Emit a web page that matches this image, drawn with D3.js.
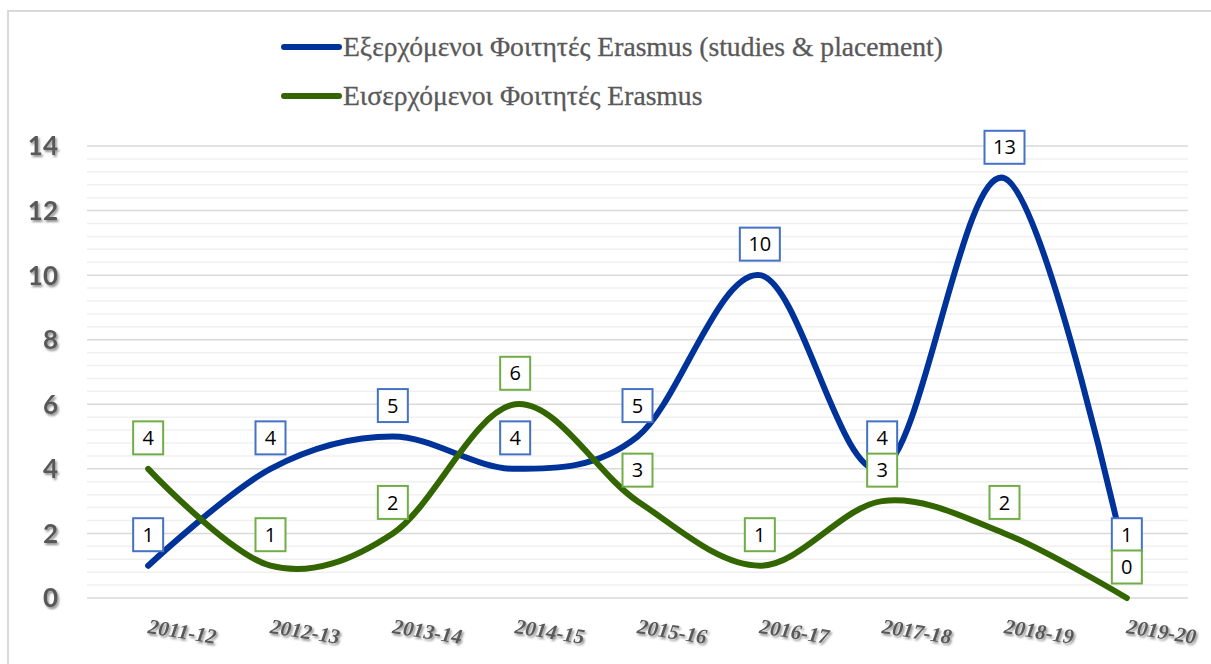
<!DOCTYPE html>
<html><head><meta charset="utf-8">
<script src="https://cdn.jsdelivr.net/npm/d3@7"></script>
<style>body{margin:0;background:#fff;}svg{display:block;}</style>
</head><body>
<svg id="chart" width="1211" height="664"></svg>
<script>
const categories = ["2011-12","2012-13","2013-14","2014-15","2015-16","2016-17","2017-18","2018-19","2019-20"];
const outgoing = [1,4,5,4,5,10,4,13,1];
const incoming = [4,1,2,6,3,1,3,2,0];
const seriesNames = ["Εξερχόμενοι Φοιτητές Erasmus (studies & placement)","Εισερχόμενοι Φοιτητές Erasmus"];
const yTicks = [0,2,4,6,8,10,12,14];

const svg = d3.select("#chart");
const defs = svg.append("defs");
const f = defs.append("filter").attr("id","sh").attr("x","-20%").attr("y","-40%").attr("width","150%").attr("height","200%");
f.append("feDropShadow").attr("dx",1.5).attr("dy",2).attr("stdDeviation",1.2).attr("flood-color","#000").attr("flood-opacity",0.45);

// chart border
svg.append("rect").attr("x",8).attr("y",11).attr("width",1220).attr("height",700)
  .attr("fill","#fff").attr("stroke","#d9d9d9").attr("stroke-width",2);

const x = d3.scaleBand().domain(categories).range([87,1188]);
const y = d3.scaleLinear().domain([0,14]).range([598,146]);
const cx = c => x(c) + x.bandwidth()/2;

// gridlines
const minor = d3.range(0,14.001,0.4).map(v=>+v.toFixed(1));
svg.append("g").selectAll("line").data(minor.filter(v=>Math.abs(v/2-Math.round(v/2))>1e-6)).join("line")
  .attr("x1",87).attr("x2",1188).attr("y1",d=>y(d)).attr("y2",d=>y(d))
  .attr("stroke","#f0f0f0").attr("stroke-width",1.5);
svg.append("g").selectAll("line").data(yTicks).join("line")
  .attr("x1",87).attr("x2",1188).attr("y1",d=>y(d)).attr("y2",d=>y(d))
  .attr("stroke","#d9d9d9").attr("stroke-width",1.5);

// y labels
svg.append("g").attr("filter","url(#sh)").selectAll("text").data(yTicks).join("text")
  .attr("x",58).attr("y",d=>y(d)).attr("dy","0.36em").attr("text-anchor","end")
  .attr("font-family","Lato, 'Open Sans', sans-serif").attr("font-weight","bold").attr("font-size",26)
  .attr("fill","#595959").text(d=>d);

// x labels
svg.append("g").attr("filter","url(#sh)").selectAll("text").data(categories).join("text")
  .attr("transform",d=>`translate(${cx(d)-1},${633}) rotate(9)`)
  .attr("font-family","'Liberation Serif', serif").attr("font-weight","bold").attr("font-style","italic")
  .attr("font-size",21).attr("fill","#595959").text(d=>d);

// lines
const line = d3.line().x((d,i)=>cx(categories[i])).y(d=>y(d)).curve(d3.curveCatmullRom.alpha(0));
const series = [
  {name:seriesNames[0], values:outgoing, color:"#003399", box:"#4472c4"},
  {name:seriesNames[1], values:incoming, color:"#336600", box:"#70ad47"}
];
series.forEach(s=>{
  svg.append("path").attr("d",line(s.values)).attr("fill","none")
    .attr("stroke",s.color).attr("stroke-width",6).attr("stroke-linecap","round").attr("stroke-linejoin","round");
});

// data labels
series.forEach(s=>{
  const g = svg.append("g");
  s.values.forEach((v,i)=>{
    const px = cx(categories[i]), py = y(v) - 31;
    const w = String(v).length>1 ? 40 : 30, h = 33;
    g.append("rect").attr("x",px-w/2).attr("y",py-h/2).attr("width",w).attr("height",h)
      .attr("fill","#fff").attr("stroke",s.box).attr("stroke-width",2);
    g.append("text").attr("x",px).attr("y",py).attr("dy","0.36em").attr("text-anchor","middle")
      .attr("font-family","'Open Sans', 'Liberation Sans', sans-serif").attr("font-size",20)
      .attr("fill","#000").text(v);
  });
});

// legend
series.forEach((s,i)=>{
  const ly = 47 + i*49;
  svg.append("line").attr("x1",284).attr("x2",339).attr("y1",ly).attr("y2",ly)
    .attr("stroke",s.color).attr("stroke-width",6).attr("stroke-linecap","round");
  svg.append("text").attr("x",343).attr("y",ly).attr("dy","0.33em")
    .attr("font-family","'Liberation Serif', serif").attr("font-size",27.6)
    .attr("fill","#595959").attr("stroke","#595959").attr("stroke-width",0.3).text(s.name);
});
</script>
</body></html>
